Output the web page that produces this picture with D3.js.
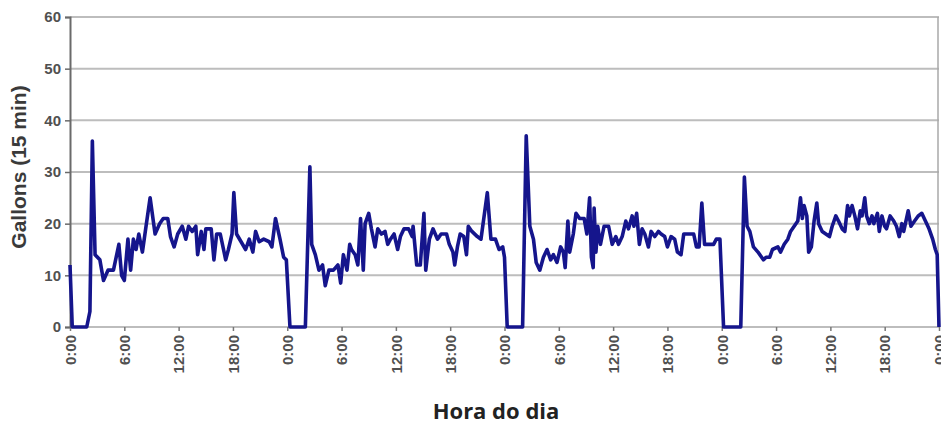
<!DOCTYPE html>
<html>
<head>
<meta charset="utf-8">
<script src="https://cdn.jsdelivr.net/npm/d3@7"></script>
<style>
  body { margin: 0; background: #fff; }
  svg { display: block; }
</style>
</head>
<body>
<svg></svg>
<script>
// Chart size
const width = 941, height = 424;
const margin = { left: 70, right: 2, top: 17, bottom: 97 };

// Readings per day: [hour of the day, gallons per 15 min]
const day1 = [
  [0, 12], [0.25, 0], [1.85, 0], [2.2, 3], [2.47, 36], [2.77, 14], [3.3, 13], [3.7, 9],
  [4.2, 11], [4.8, 11], [5.4, 16], [5.7, 10], [6.0, 9], [6.4, 17], [6.7, 11], [7.0, 17],
  [7.3, 15], [7.6, 18], [8.0, 14.5], [8.4, 19.5], [8.85, 25], [9.4, 18], [9.9, 20], [10.3, 21],
  [10.8, 21], [11.1, 17.5], [11.5, 15.5], [11.9, 18], [12.4, 19.5], [12.8, 17], [13.1, 19.5], [13.5, 18.5],
  [13.9, 19.5], [14.1, 14], [14.5, 18.5], [14.8, 15], [15.0, 19], [15.6, 19], [15.9, 13], [16.2, 18],
  [16.6, 18], [17.2, 13], [17.5, 15], [17.9, 18], [18.1, 26], [18.4, 18], [18.9, 16.5], [19.4, 15],
  [19.8, 17], [20.2, 14.5], [20.5, 18.5], [20.9, 16.5], [21.4, 17], [22.0, 16.5], [22.3, 15.5], [22.7, 21],
  [23.2, 17], [23.6, 13.5], [23.9, 13]
];
const day2 = [
  [0.3, 0], [2.0, 0], [2.5, 31], [2.7, 16], [3.1, 14], [3.5, 11], [3.9, 12], [4.2, 8],
  [4.6, 11], [5.1, 11], [5.6, 12], [5.9, 8.5], [6.2, 14], [6.6, 11], [6.9, 16], [7.1, 15],
  [7.5, 14], [7.8, 12], [8.1, 21], [8.4, 11], [8.6, 20], [9.0, 22], [9.3, 19], [9.7, 15.5],
  [10.0, 19], [10.4, 18], [10.8, 18.5], [11.1, 16], [11.4, 17], [11.8, 18], [12.2, 15], [12.5, 17.5],
  [12.9, 19], [13.4, 19], [13.8, 17.5], [13.9, 19.5], [14.3, 12], [14.7, 12], [15.1, 22], [15.3, 11],
  [15.7, 17], [16.1, 19], [16.6, 17], [17.0, 18], [17.6, 18], [17.9, 16], [18.3, 14.5], [18.5, 12],
  [18.8, 15.5], [19.1, 18], [19.5, 17.5], [19.8, 14], [20.0, 19.5], [20.4, 18.5], [21.0, 17.5], [21.4, 17],
  [22.1, 26], [22.5, 17], [23.0, 17], [23.4, 15], [23.8, 15.5], [24.0, 13.5]
];
const day3 = [
  [0.3, 0], [2.0, 0], [2.4, 37], [2.8, 19.5], [3.2, 17], [3.5, 12.5], [3.9, 11], [4.3, 13.5],
  [4.7, 15], [5.1, 13], [5.4, 14], [5.8, 12.5], [6.2, 15.5], [6.5, 14.5], [6.7, 11.5], [7.0, 20.5],
  [7.2, 14.5], [7.6, 18], [7.9, 22], [8.3, 21], [8.8, 21], [9.1, 18], [9.4, 25], [9.6, 13.5],
  [9.8, 11.5], [9.9, 23], [10.1, 14.5], [10.3, 19.5], [10.6, 16], [11.0, 19.5], [11.5, 19.5], [11.9, 16],
  [12.3, 17.5], [12.6, 16], [13.0, 17.5], [13.4, 20.5], [13.7, 19], [14.1, 21.5], [14.3, 19.5], [14.6, 22],
  [14.9, 16], [15.2, 19], [15.5, 18], [15.9, 15.5], [16.2, 18.5], [16.6, 17.5], [17.0, 18.5], [17.3, 18],
  [17.7, 17.5], [18.0, 15.5], [18.4, 17.5], [18.8, 17], [19.1, 14.5], [19.5, 14], [19.8, 18], [20.4, 18],
  [20.9, 18], [21.2, 15.5], [21.5, 15.5], [21.8, 24], [22.1, 16], [22.6, 16], [23.1, 16], [23.4, 17],
  [23.8, 17]
];
const day4 = [
  [0.2, 0], [2.1, 0], [2.5, 29], [2.8, 19.5], [3.1, 18.5], [3.5, 15.5], [4.0, 14.5], [4.6, 13],
  [4.9, 13.5], [5.3, 13.5], [5.6, 15], [6.2, 15.5], [6.5, 14.5], [6.9, 16], [7.3, 17], [7.6, 18.5],
  [8.0, 19.5], [8.4, 20.5], [8.7, 25], [8.9, 21], [9.1, 23.5], [9.4, 21.5], [9.6, 14.5], [9.9, 15.5],
  [10.2, 20.5], [10.5, 24], [10.7, 20], [11.1, 18.5], [11.5, 18], [11.9, 17.5], [12.2, 19.5], [12.6, 21.5],
  [12.9, 20.5], [13.3, 19], [13.6, 18.5], [13.9, 23.5], [14.1, 21.5], [14.4, 23.5], [14.7, 21.5], [15.0, 19],
  [15.3, 22.5], [15.5, 21.5], [15.8, 25], [16.0, 21.5], [16.3, 20], [16.6, 21.5], [16.8, 20], [17.2, 22],
  [17.4, 18.5], [17.7, 21.5], [18.0, 19.5], [18.2, 19], [18.6, 21.5], [19.0, 20.5], [19.3, 19.5], [19.6, 17.5],
  [19.9, 20], [20.1, 18.5], [20.6, 22.5], [20.9, 19.5], [21.3, 20.5], [21.7, 21.5], [22.1, 22], [22.5, 20.5],
  [22.9, 19], [23.3, 17], [23.6, 15], [23.8, 14], [24.0, 0]
];

// Axis ticks
const hourTicks = [0, 6, 12, 18, 24, 30, 36, 42, 48, 54, 60, 66, 72, 78, 84, 90, 96];
const hourLabels = ["0:00", "6:00", "12:00", "18:00", "0:00", "6:00", "12:00", "18:00",
  "0:00", "6:00", "12:00", "18:00", "0:00", "6:00", "12:00", "18:00", "0:00"];
const gallonTicks = [0, 10, 20, 30, 40, 50, 60];

// Put the four days one after the other
const series = [day1, day2, day3, day4]
  .flatMap((day, i) => day.map(([h, v]) => ({ hour: i * 24 + h, value: v })));

const svg = d3.select("svg")
  .attr("width", width)
  .attr("height", height);

svg.append("rect")
  .attr("width", width)
  .attr("height", height)
  .attr("fill", "#fff");

const x = d3.scaleLinear()
  .domain([0, 96])
  .range([margin.left, width - margin.right]);

const y = d3.scaleLinear()
  .domain([0, 60])
  .range([height - margin.bottom, margin.top]);

// Horizontal grid lines
svg.append("g")
  .selectAll("line")
  .data(gallonTicks)
  .join("line")
  .attr("x1", x(0))
  .attr("x2", x(96))
  .attr("y1", d => y(d))
  .attr("y2", d => y(d))
  .attr("stroke", "#bdbdbd")
  .attr("stroke-width", 2);

// Right border of the plot
svg.append("line")
  .attr("x1", x(96) - 1)
  .attr("x2", x(96) - 1)
  .attr("y1", y(60))
  .attr("y2", y(0))
  .attr("stroke", "#a8a8a8")
  .attr("stroke-width", 1.5);

// Left axis
const yAxis = svg.append("g")
  .attr("transform", `translate(${margin.left},0)`)
  .call(d3.axisLeft(y).tickValues(gallonTicks).tickSize(5).tickPadding(4));

yAxis.select(".domain").attr("stroke", "#6a6a6a").attr("stroke-width", 2);
yAxis.selectAll(".tick line").attr("stroke", "#6a6a6a").attr("stroke-width", 1.5);
yAxis.selectAll(".tick text")
  .attr("font-family", "Liberation Sans, Arial, sans-serif")
  .attr("font-size", 15)
  .attr("font-weight", "bold")
  .attr("fill", "#505050");

// Bottom axis
const xAxis = svg.append("g")
  .attr("transform", `translate(0,${y(0)})`)
  .call(d3.axisBottom(x)
    .tickValues(hourTicks)
    .tickFormat((d, i) => hourLabels[i])
    .tickSize(4));

xAxis.select(".domain").remove();
xAxis.selectAll(".tick line").attr("stroke", "#777").attr("stroke-width", 1.5);
xAxis.selectAll(".tick text")
  .attr("transform", "rotate(-90)")
  .attr("x", -8)
  .attr("y", 0)
  .attr("dy", "0.35em")
  .attr("text-anchor", "end")
  .attr("font-family", "Liberation Sans, Arial, sans-serif")
  .attr("font-size", 15)
  .attr("font-weight", "bold")
  .attr("fill", "#505050");

// Water use line
const line = d3.line()
  .x(d => x(d.hour))
  .y(d => y(d.value));

svg.append("path")
  .datum(series)
  .attr("d", line)
  .attr("fill", "none")
  .attr("stroke", "#15158c")
  .attr("stroke-width", 3.6)
  .attr("stroke-linejoin", "round");

// Axis titles
svg.append("text")
  .attr("transform", `translate(26,${(y(0) + y(60)) / 2 - 5}) rotate(-90)`)
  .attr("text-anchor", "middle")
  .attr("font-family", "Liberation Sans, Arial, sans-serif")
  .attr("font-size", 21)
  .attr("font-weight", "bold")
  .attr("fill", "#3a3a3a")
  .text("Gallons (15 min)");

svg.append("text")
  .attr("x", 496)
  .attr("y", 419)
  .attr("text-anchor", "middle")
  .attr("font-family", "Open Sans, sans-serif")
  .attr("font-size", 22)
  .attr("font-weight", "bold")
  .attr("fill", "#222")
  .text("Hora do dia");
</script>
</body>
</html>
